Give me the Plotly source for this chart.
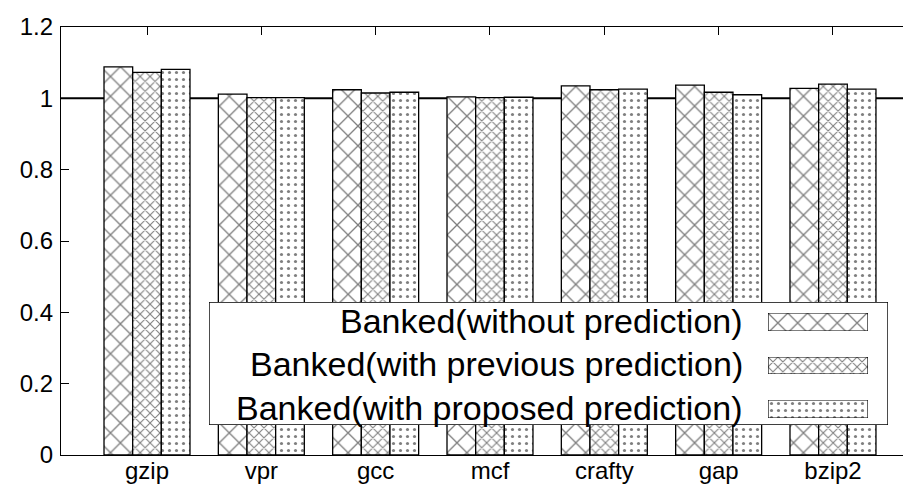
import plotly.graph_objects as go

categories = ["gzip", "vpr", "gcc", "mcf", "crafty", "gap", "bzip2"]
series_names = [
    "Banked(without prediction)",
    "Banked(with previous prediction)",
    "Banked(with proposed prediction)",
]
without_pred = [1.088, 1.012, 1.024, 1.004, 1.035, 1.037, 1.028]
previous_pred = [1.073, 1.002, 1.015, 1.002, 1.024, 1.017, 1.040]
proposed_pred = [1.081, 1.002, 1.017, 1.003, 1.026, 1.010, 1.026]
y_ticks = [0, 0.2, 0.4, 0.6, 0.8, 1, 1.2]
y_tick_labels = ["0", "0.2", "0.4", "0.6", "0.8", "1", "1.2"]

series_values = [without_pred, previous_pred, proposed_pred]
patterns = [
    dict(shape="x", size=14, solidity=0.18, fgcolor="black", bgcolor="white"),
    dict(shape="x", size=7, solidity=0.28, fgcolor="black", bgcolor="white"),
    dict(shape=".", size=7, solidity=0.16, fgcolor="black", bgcolor="white"),
]

FONT = "Liberation Sans, Arial, Helvetica, sans-serif"
OFF = 8  # page body margin offset
W, H = 911 - OFF, 487 - OFF
ML, MR, MT, MB = 61 - OFF, 0, 27 - OFF, 487 - 455
plot_w = W - ML - MR
plot_h = H - MT - MB

step = 114.33
x0 = -86 / step
x1 = x0 + plot_w / step
xr = [x0, x1]


def px_x(p):
    return (p - OFF - ML) / plot_w


def px_y(p):
    return (H - MB - (p - OFF)) / plot_h


fig = go.Figure()

for name, vals, pat in zip(series_names, series_values, patterns):
    fig.add_trace(go.Bar(
        x=categories, y=vals, name=name, showlegend=False,
        marker=dict(color="white", line=dict(color="black", width=1.3), pattern=pat),
        xaxis="x", yaxis="y",
    ))

# empty traces so the mirrored top / right tick axes get drawn
fig.add_trace(go.Scatter(x=[], y=[], xaxis="x2", yaxis="y", showlegend=False))
fig.add_trace(go.Scatter(x=[], y=[], xaxis="x", yaxis="y2", showlegend=False))

# custom gnuplot-style legend: box
fig.add_trace(go.Scatter(
    x=[0, 1, 1, 0, 0], y=[0, 0, 1, 1, 0], mode="lines", fill="toself",
    fillcolor="white", line=dict(color="black", width=1.4),
    showlegend=False, hoverinfo="skip", xaxis="x3", yaxis="y3",
))

legend_rows = [(331, 313), (374, 357), (418, 400)]
for i, (pat, (yb, yt)) in enumerate(zip(patterns, legend_rows)):
    ax = 4 + i
    fig.add_trace(go.Bar(
        x=[1], y=[0], orientation="h", width=1, showlegend=False,
        marker=dict(color="white", line=dict(color="black", width=1.2), pattern=pat),
        xaxis=f"x{ax}", yaxis=f"y{ax}", hoverinfo="skip",
    ))
    fig.layout[f"xaxis{ax}"] = dict(domain=[px_x(768), px_x(868)], range=[0, 1],
                                    visible=False, anchor=f"y{ax}", fixedrange=True)
    fig.layout[f"yaxis{ax}"] = dict(domain=[px_y(yb), px_y(yt)], range=[-0.5, 0.5],
                                    visible=False, anchor=f"x{ax}", fixedrange=True)

for name, yc in zip(series_names, [321, 364, 408]):
    fig.add_annotation(
        text=name, xref="paper", yref="paper", x=px_x(745), y=px_y(yc),
        xanchor="right", yanchor="middle", showarrow=False,
        font=dict(family=FONT, size=34, color="black"),
    )

# reference line at 1
fig.add_shape(type="line", xref="paper", yref="y", x0=0, x1=1, y0=1, y1=1,
              line=dict(color="black", width=2), layer="below")

fig.update_layout(
    width=W, height=H,
    margin=dict(l=ML, r=MR, t=MT, b=MB, pad=0, autoexpand=False),
    paper_bgcolor="white", plot_bgcolor="white",
    barmode="group", bargap=0.248, bargroupgap=0,
    font=dict(family=FONT, size=24, color="black"),
    showlegend=False,
    xaxis=dict(
        domain=[0, 1], range=xr, type="category", showline=True, linecolor="black",
        linewidth=1.3, ticks="", showgrid=False, zeroline=False, automargin=False,
        tickfont=dict(family=FONT, size=24, color="black"), ticklabelstandoff=-6,
        anchor="y",
    ),
    xaxis2=dict(
        overlaying="x", side="top", anchor="y", range=xr, showline=True,
        linecolor="black", linewidth=1.3, ticks="inside", ticklen=8, tickcolor="black",
        tickwidth=1.3, tickvals=list(range(len(categories))), showticklabels=False,
        showgrid=False, zeroline=False, automargin=False,
    ),
    yaxis=dict(
        domain=[0, 1], range=[0, 1.2], tickvals=y_ticks, ticktext=y_tick_labels,
        showline=True, linecolor="black", linewidth=1.3, ticks="inside", ticklen=8,
        tickcolor="black", tickwidth=1.3, showgrid=False, zeroline=False,
        automargin=False,
        tickfont=dict(family=FONT, size=24, color="black"), ticklabelstandoff=2,
        anchor="x",
    ),
    yaxis2=dict(
        overlaying="y", side="right", anchor="x", range=[0, 1.2], tickvals=y_ticks,
        ticks="inside", ticklen=5, tickcolor="black", tickwidth=1.3,
        showticklabels=False,
        showline=False, showgrid=False, zeroline=False, automargin=False,
    ),
    xaxis3=dict(domain=[px_x(209), px_x(888)], range=[0, 1], visible=False,
                anchor="y3", fixedrange=True),
    yaxis3=dict(domain=[px_y(425), px_y(302)], range=[0, 1], visible=False,
                anchor="x3", fixedrange=True),
)

fig.write_html("out.html", config={"displayModeBar": False})
